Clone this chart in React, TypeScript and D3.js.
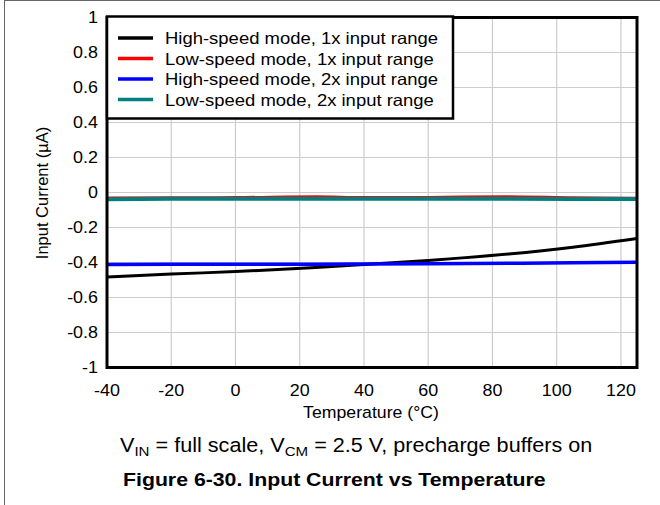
import React from "react";
import * as d3 from "d3";

const temps = [-40, -20, 0, 25, 40, 60, 85, 105, 125];
const hs1x = [-0.483, -0.466, -0.452, -0.428, -0.412, -0.388, -0.352, -0.313, -0.263];
const ls1x = [-0.032, -0.030, -0.029, -0.024, -0.029, -0.028, -0.024, -0.030, -0.033];
const hs2x = [-0.411, -0.410, -0.410, -0.410, -0.409, -0.407, -0.404, -0.402, -0.398];
const ls2x = [-0.038, -0.036, -0.036, -0.035, -0.036, -0.036, -0.036, -0.037, -0.037];

const seriesNames = [
  "High-speed mode, 1x input range",
  "Low-speed mode, 1x input range",
  "High-speed mode, 2x input range",
  "Low-speed mode, 2x input range",
];
const seriesValues = [hs1x, ls1x, hs2x, ls2x];
const seriesColors = ["#000000", "#ff0000", "#0000ff", "#008080"];
const seriesWidths = [3, 3, 3.5, 4];

const xTicks = [-40, -20, 0, 20, 40, 60, 80, 100, 120];
const yTicks = [1, 0.8, 0.6, 0.4, 0.2, 0, -0.2, -0.4, -0.6, -0.8, -1];

const SX = 1.12;
const FONT = "'Liberation Sans', Arial, Helvetica, sans-serif";

function T(props: any) {
  const { x, y, anchor = "start", size = 16, weight = "normal", rotate = 0, children } = props;
  const tr = rotate
    ? `translate(${x},${y}) rotate(${rotate})`
    : `translate(${x},${y}) scale(${SX},1)`;
  return (
    <text transform={tr} textAnchor={anchor} fontSize={size} fontWeight={weight} fontFamily={FONT} fill="#000">
      {children}
    </text>
  );
}

export default function App() {
  const L = 107, R = 637, TOP = 17.5, B = 367.5;
  const x = d3.scaleLinear().domain([-40, 125]).range([L, R]);
  const y = d3.scaleLinear().domain([-1, 1]).range([B, TOP]);
  const line = (vals: number[]) =>
    d3.line<number>().x((_, i) => x(temps[i])).y((d) => y(d)).curve(d3.curveMonotoneX)(vals) || "";

  const legX = L, legY = TOP - 1, legW = 346, legH = 102;
  const rowY = [38, 58.5, 79, 99.5];

  return (
    <svg width={660} height={505} style={{ position: "absolute", left: 0, top: 0 }}>
      <rect x={0} y={0} width={660} height={505} fill="#fff" />
      <line x1={4.5} y1={0} x2={4.5} y2={505} stroke="#666" strokeWidth={1} />
      <line x1={4} y1={0.5} x2={660} y2={0.5} stroke="#666" strokeWidth={1} />

      {/* grid */}
      {xTicks.filter((t) => t > -40).map((t) => (
        <line key={"gx" + t} x1={x(t)} x2={x(t)} y1={TOP} y2={B} stroke="#cccccc" strokeWidth={1.2} />
      ))}
      {yTicks.filter((t) => t > -1 && t < 1).map((t) => (
        <line key={"gy" + t} x1={L} x2={R} y1={y(t)} y2={y(t)} stroke="#cccccc" strokeWidth={1.2} />
      ))}

      {/* series */}
      {seriesValues.map((vals, i) => (
        <path key={"s" + i} d={line(vals)} fill="none" stroke={seriesColors[i]} strokeWidth={seriesWidths[i]} />
      ))}

      {/* frame */}
      <rect x={L} y={TOP} width={R - L} height={B - TOP} fill="none" stroke="#000" strokeWidth={3} />

      {/* legend */}
      <rect x={legX} y={legY} width={legW} height={legH} fill="#fff" stroke="#000" strokeWidth={2.5} />
      {seriesNames.map((n, i) => (
        <g key={"lg" + i}>
          <line x1={118} x2={153} y1={rowY[i]} y2={rowY[i]} stroke={seriesColors[i]} strokeWidth={3.5} />
          <T x={165} y={rowY[i] + 6} size={16.5}>{n}</T>
        </g>
      ))}

      {/* y tick labels */}
      {yTicks.map((t) => (
        <T key={"yt" + t} x={98} y={y(t) + 5.6} anchor="end" size={16}>{String(t)}</T>
      ))}
      {/* x tick labels */}
      {xTicks.map((t) => (
        <T key={"xt" + t} x={x(t)} y={396} anchor="middle" size={16}>{String(t)}</T>
      ))}

      <T x={371} y={418} anchor="middle" size={15.8}>Temperature (°C)</T>
      <T x={47.5} y={193} anchor="middle" size={16.5} rotate={-90}>Input Current (µA)</T>

      <text transform={`translate(120,452) scale(${SX},1)`} fontSize={19.3} fontFamily={FONT} fill="#000">
        <tspan>V</tspan>
        <tspan fontSize={13.5} dy={4}>IN</tspan>
        <tspan dy={-4}> = full scale, V</tspan>
        <tspan fontSize={13.5} dy={4}>CM</tspan>
        <tspan dy={-4}> = 2.5 V, precharge buffers on</tspan>
      </text>
      <T x={123} y={486} size={19} weight="bold">Figure 6-30. Input Current vs Temperature</T>
    </svg>
  );
}
